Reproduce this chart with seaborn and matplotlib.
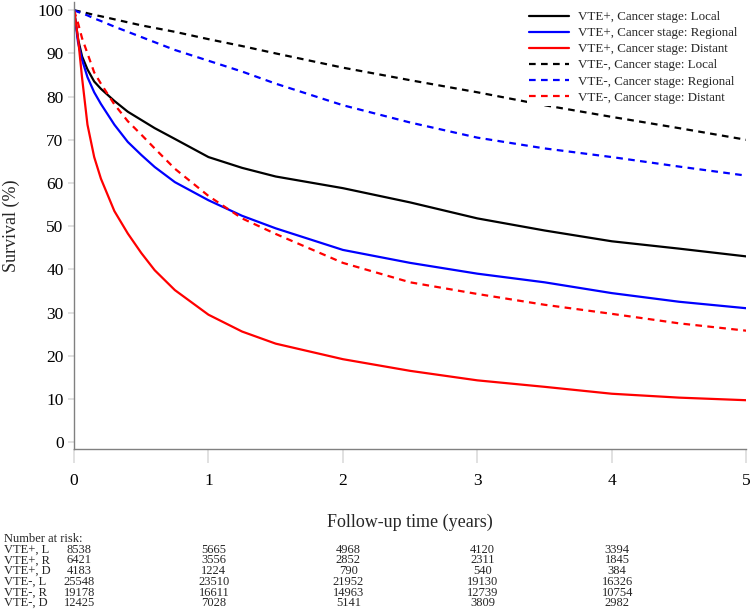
"""Kaplan-Meier style survival curves by VTE status and cancer stage."""

import matplotlib

matplotlib.use("Agg")
import matplotlib.pyplot as plt
import matplotlib.transforms as mtransforms
import pandas as pd
import seaborn as sns

# follow-up grid (years) and survival (%)
years = [0, 0.03, 0.06, 0.1, 0.15, 0.2, 0.3, 0.4, 0.5, 0.6, 0.75,
         1, 1.25, 1.5, 2, 2.5, 3, 3.5, 4, 4.5, 5]
vte_pos_local = [100, 93.3, 89.3, 86.3, 83.5, 81.8, 79, 76.5, 74.6, 72.7, 70.2,
                 66, 63.5, 61.5, 58.8, 55.5, 51.8, 49, 46.5, 44.8, 43]
vte_pos_regional = [100, 92.5, 88.5, 84.5, 81, 78.3, 73.5, 69.5, 66.5, 63.7, 60.2,
                    56, 52.4, 49.5, 44.5, 41.5, 39, 37, 34.5, 32.5, 31]
vte_pos_distant = [100, 93.5, 84.3, 73.5, 66, 61, 53.5, 48.3, 43.8, 39.8, 35.2,
                   29.5, 25.6, 22.8, 19.2, 16.5, 14.3, 12.8, 11.2, 10.3, 9.7]
vte_neg_local = [100, 99.8, 99.6, 99.3, 98.9, 98.6, 97.9, 97.2, 96.5, 95.9, 95,
                 93.3, 91.7, 90, 86.7, 83.8, 81, 78, 75.3, 72.7, 70]
vte_neg_regional = [100, 99.6, 99.3, 98.8, 98.1, 97.5, 96.2, 95, 93.8, 92.6, 90.8,
                    88.3, 85.8, 83, 78, 74, 70.5, 68, 66, 63.8, 61.7]
vte_neg_distant = [100, 97, 93.5, 90, 85.6, 83, 78.2, 74.3, 71.2, 68, 63.3,
                   57, 51.8, 48.2, 41.5, 37, 34.3, 31.8, 29.7, 27.5, 25.8]

series_labels = [
    "VTE+, Cancer stage: Local",
    "VTE+, Cancer stage: Regional",
    "VTE+, Cancer stage: Distant",
    "VTE-, Cancer stage: Local",
    "VTE-, Cancer stage: Regional",
    "VTE-, Cancer stage: Distant",
]
series_values = [vte_pos_local, vte_pos_regional, vte_pos_distant,
                 vte_neg_local, vte_neg_regional, vte_neg_distant]

# number at risk table
risk_times = [0, 1, 2, 3, 4]
risk_rows = ["VTE+, L", "VTE+, R", "VTE+, D", "VTE-, L", "VTE-, R", "VTE-, D"]
risk_counts = [
    [8538, 5665, 4968, 4120, 3394],
    [6421, 3556, 2852, 2311, 1845],
    [4183, 1224, 790, 540, 384],
    [25548, 23510, 21952, 19130, 16326],
    [19178, 16611, 14963, 12739, 10754],
    [12425, 7028, 5141, 3809, 2982],
]

colors = ["black", "#0000ff", "#ff0000"] * 2
styles = ["-"] * 3 + [(0, (3, 2.4))] * 3

sns.set_theme(style="ticks")
plt.rcParams["font.family"] = ["Liberation Serif", "DejaVu Serif"]


def main() -> None:
    df = pd.concat(
        [pd.DataFrame({"years": years, "survival": vals, "group": lab})
         for lab, vals in zip(series_labels, series_values)],
        ignore_index=True,
    )

    fig = plt.figure(figsize=(7.5, 6.11), dpi=100)
    ax = fig.add_axes([0.0987, 0.2651, 0.8963, 0.7316])

    for lab, col, ls in zip(series_labels, colors, styles):
        sns.lineplot(data=df[df["group"] == lab], x="years", y="survival",
                     color=col, linestyle=ls, linewidth=1.6, label=lab, ax=ax)

    ax.set_xlim(0, 5)
    ax.set_ylim(-1.6, 101.9)
    ax.set_xticks(range(6))
    ax.set_yticks(range(0, 101, 10))
    ax.tick_params(axis="both", labelsize=12.5, colors="#dddddd", labelcolor="black")
    ax.tick_params(axis="x", length=10, pad=7)
    ax.tick_params(axis="y", length=4.5, pad=3)
    for side in ("top", "right"):
        ax.spines[side].set_visible(False)
    for side in ("left", "bottom"):
        ax.spines[side].set_color("#808080")
        ax.spines[side].set_linewidth(1.0)

    ax.set_xlabel("Follow-up time (years)", fontsize=13)
    ax.xaxis.set_label_coords(0.5, -0.145)
    ax.set_ylabel("Survival (%)", fontsize=13)
    ax.yaxis.set_label_coords(-0.08, 0.5)

    leg = ax.legend(loc="upper right", bbox_to_anchor=(1.0, 1.0), fontsize=9.4,
                    frameon=True, fancybox=False, handlelength=3.0,
                    labelspacing=0.3, borderpad=0.2, handletextpad=0.7)
    leg.get_frame().set_edgecolor("none")
    leg.get_frame().set_facecolor("white")
    leg.get_frame().set_alpha(1)

    # number at risk table below the axes
    trans = mtransforms.blended_transform_factory(ax.transData, fig.transFigure)
    y0 = 1 - 539 / 611
    step = 10.7 / 611
    fig.text(0.005, y0, "Number at risk:", fontsize=9, va="center", ha="left")
    for i, (row, counts) in enumerate(zip(risk_rows, risk_counts)):
        y = y0 - (i + 1) * step
        fig.text(0.005, y, row, fontsize=9, va="center", ha="left")
        for t, n in zip(risk_times, counts):
            ax.text(t + 0.04, y, str(n), transform=trans, fontsize=9,
                    va="center", ha="center")

    fig.savefig("out.png", dpi=100)
    plt.close(fig)


if __name__ == "__main__":
    main()
